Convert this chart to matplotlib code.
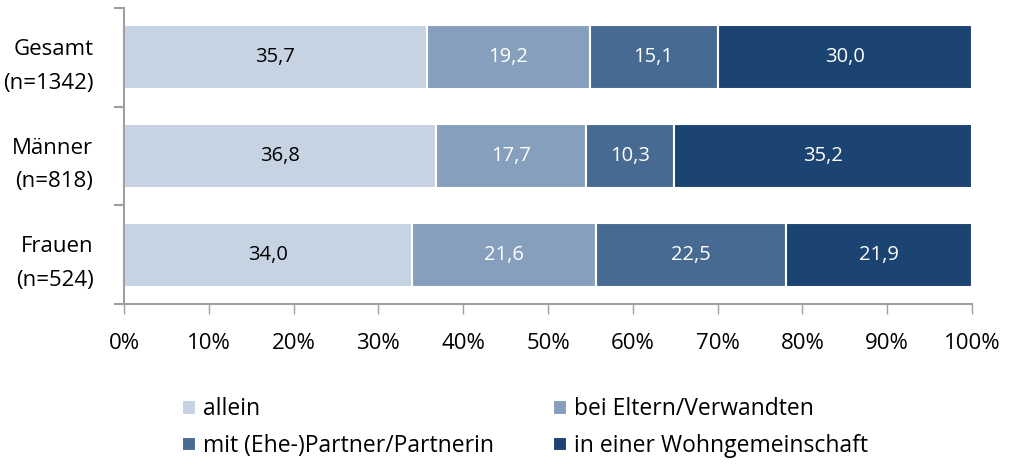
import numpy as np
import matplotlib.pyplot as plt
from matplotlib.ticker import FixedLocator

plt.rcParams['font.family'] = ['Open Sans', 'DejaVu Sans']

groups = ['Gesamt\n(n=1342)', 'Männer\n(n=818)', 'Frauen\n(n=524)']
series = ['allein', 'bei Eltern/Verwandten', 'mit (Ehe-)Partner/Partnerin',
          'in einer Wohngemeinschaft']
allein = [35.7, 36.8, 34.0]
eltern = [19.2, 17.7, 21.6]
partner = [15.1, 10.3, 22.5]
wg = [30.0, 35.2, 21.9]
colors = ['#c6d3e3', '#869fbd', '#476a93', '#1b4473']
text_colors = ['black', 'white', 'white', 'white']

fig = plt.figure(figsize=(10.1, 4.65), dpi=100)
ax = fig.add_axes([0.1228, 0.3462, 0.8396, 0.6366])

y = np.arange(len(groups))
left = np.zeros(len(groups))
for vals, name, c, tc in zip([allein, eltern, partner, wg], series, colors, text_colors):
    bars = ax.barh(y, vals, left=left, height=0.65, color=c, edgecolor='white',
                   linewidth=1.5, label=name)
    for b, v in zip(bars, vals):
        ax.text(b.get_x() + b.get_width() / 2, b.get_y() + b.get_height() / 2,
                f'{v:.1f}'.replace('.', ','), ha='center', va='center',
                fontsize=14.5, color=tc)
    left += np.array(vals)

ax.set_xlim(0, 100)
ax.set_ylim(2.5, -0.5)
ax.set_xticks(np.arange(0, 101, 10))
ax.set_xticklabels([f'{v}%' for v in range(0, 101, 10)], fontsize=16)
ax.set_yticks(y)
ax.set_yticklabels(groups, fontsize=16, linespacing=1.8)
ax.yaxis.set_minor_locator(FixedLocator([-0.5, 0.5, 1.5, 2.5]))
ax.tick_params(axis='y', which='major', length=0, pad=22)
ax.tick_params(axis='y', which='minor', length=7, color='#a0a0a0', width=1.5)
ax.tick_params(axis='x', length=7, color='#a0a0a0', width=1, pad=14)
for s in ['top', 'right']:
    ax.spines[s].set_visible(False)
for s in ['left', 'bottom']:
    ax.spines[s].set_color('#a0a0a0')
    ax.spines[s].set_linewidth(1.5)

handles, labels = ax.get_legend_handles_labels()
order = [0, 2, 1, 3]
fig.legend([handles[i] for i in order], [labels[i] for i in order],
           loc='center', bbox_to_anchor=(0.52, 0.08), ncol=2, frameon=False,
           fontsize=16.5, handlelength=0.6, handleheight=0.6, handletextpad=0.3,
           columnspacing=2.6, labelspacing=0.55)

fig.savefig('out.png', dpi=100)
